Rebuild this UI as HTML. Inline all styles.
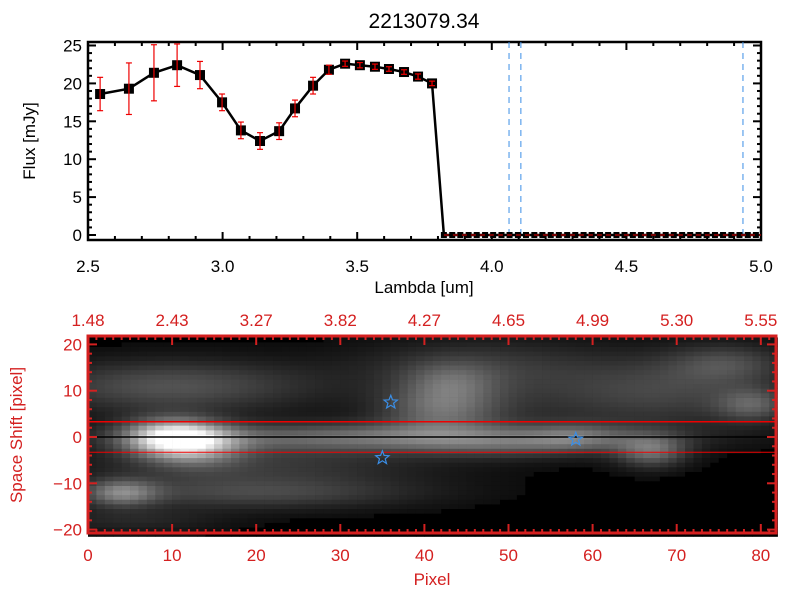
<!DOCTYPE html>
<html><head><meta charset="utf-8"><style>
html,body{margin:0;padding:0;background:#fff;width:800px;height:600px;overflow:hidden}
svg{display:block;font-family:"Liberation Sans",sans-serif}
</style></head><body>
<svg id="c" width="800" height="600" viewBox="0 0 800 600"></svg>
<script>
// ---- top spectrum data ----
const lambdaVals=[2.545,2.652,2.745,2.831,2.916,2.998,3.068,3.139,3.21,3.269,3.336,3.395,3.455,3.51,3.566,3.618,3.674,3.726,3.778,
3.822,3.853,3.883,3.914,3.944,3.975,4.005,4.036,4.066,4.097,4.127,4.158,4.188,4.219,4.249,4.280,4.310,4.341,4.371,4.402,4.432,4.463,4.493,4.524,4.554,4.585,4.615,4.646,4.676,4.707,4.737,4.768,4.798,4.829,4.859,4.890,4.920,4.951,4.981];
const fluxVals=[18.6,19.3,21.4,22.4,21.1,17.5,13.8,12.4,13.7,16.7,19.7,21.8,22.6,22.4,22.2,21.9,21.5,20.9,20.0,
0,0,0,0,0,0,0,0,0,0,0,0,0,0,0,0,0,0,0,0,0,0,0,0,0,0,0,0,0,0,0,0,0,0,0,0,0,0,0];
const errVals=[2.2,3.4,3.7,2.8,1.8,1.1,1.1,1.1,1.1,1.1,1.1,0.6,0.35,0.35,0.35,0.3,0.3,0.35,0.3];
const xTickLabels=["2.5","3.0","3.5","4.0","4.5","5.0"];
const yTickLabels=["0","5","10","15","20","25"];
const dashLambdas=[4.064,4.108,4.933];
// ---- bottom image data ----
const pixelTicks=[0,10,20,30,40,50,60,70,80];
const topLambdaLabels=["1.48","2.43","3.27","3.82","4.27","4.65","4.99","5.30","5.55"];
const shiftTicks=[20,10,0,-10,-20];
const blobX=[10,35,4,20,10,42,43,67,60,76,79,20,13,50,58,45,70,5];
const blobY=[0,0,-12,-12,11,6,12,-3,10,16,7,-6,-2,-2,0,16,10,-18];
const blobAmp=[0.75,0.42,0.4,0.25,0.3,0.35,0.22,0.38,0.16,0.22,0.28,0.18,0.35,0.15,0.2,0.14,0.12,0.12];
const blobSx=[4,20,3,14,12,5,4,3,14,5,3,15,4,8,4,10,8,8];
const blobSy=[2.8,2.2,2,2.5,4,3.5,3,2.5,6,3,2.5,3,3,2,2,4,5,2];
const starPix=[36,35,58];
const starShift=[7.5,-4.5,-0.5];

const S=document.getElementById('c');
const NS='http://www.w3.org/2000/svg';
function mk(t,a,p){const e=document.createElementNS(NS,t);for(const k in a)e.setAttribute(k,a[k]);(p||S).appendChild(e);return e;}
function tx(x,y,s,size,fill,anchor,rot){const e=mk('text',{x:x,y:y,'font-size':size,fill:fill,'text-anchor':anchor||'middle'});if(rot)e.setAttribute('transform',rot);e.textContent=s;return e;}

// top axes
const tx0=88,tx1=761,ty0=240,ty1=42;
const xs=l=>tx0+(l-2.5)/2.5*(tx1-tx0);
const ys=v=>235-v*7.58;
let t=tx(424,28,"2213079.34",21,'#000');


let g=mk('g',{});


mk('rect',{x:tx0,y:ty1,width:tx1-tx0,height:ty0-ty1,fill:'none',stroke:'#000','stroke-width':2.5},g);
for(let i=0;i<=25;i++){const l=2.5+i*0.1;const x=xs(l);const L=(i%5==0)?8:4;
 mk('line',{x1:x,y1:ty0,x2:x,y2:ty0-L,stroke:'#000','stroke-width':2},g);mk('line',{x1:x,y1:ty1,x2:x,y2:ty1+L,stroke:'#000','stroke-width':2},g);}
for(let v=0;v<=25;v++){const y=ys(v);const L=(v%5==0)?8:4;
 mk('line',{x1:tx0,y1:y,x2:tx0+L,y2:y,stroke:'#000','stroke-width':2},g);mk('line',{x1:tx1,y1:y,x2:tx1-L,y2:y,stroke:'#000','stroke-width':2},g);}
xTickLabels.forEach((s,i)=>{const e=tx(xs(2.5+i*0.5),272,s,17,'#000');});
yTickLabels.forEach((s,i)=>{const e=tx(82,ys(i*5)+6,s,17,'#000','end');});
t=tx(424,293,"Lambda [um]",17,'#000');
t=tx(35,141,"Flux [mJy]",17,'#000','middle','rotate(-90 35 141)');
dashLambdas.forEach(l=>{const e=mk('line',{x1:xs(l),y1:ty1,x2:xs(l),y2:ty0,stroke:'#3a8ee6','stroke-width':1,'stroke-dasharray':'6,5'});});
let pts=lambdaVals.map((l,i)=>xs(l)+','+ys(fluxVals[i])).join(' ');
let pl=mk('polyline',{points:pts,fill:'none',stroke:'#000','stroke-width':2.5});

lambdaVals.forEach((l,i)=>{const x=xs(l),y=ys(fluxVals[i]);
 const sz=fluxVals[i]===0?6:10;
 const m=mk('rect',{x:x-sz/2,y:y-sz/2,width:sz,height:sz,fill:'#000'});
 if(i<errVals.length){const eg=mk('g',{stroke:'#e00','stroke-width':1.2});
  const a=ys(fluxVals[i]+errVals[i]),b=ys(fluxVals[i]-errVals[i]);
  mk('line',{x1:x,y1:a,x2:x,y2:b},eg);mk('line',{x1:x-3,y1:a,x2:x+3,y2:a},eg);mk('line',{x1:x-3,y1:b,x2:x+3,y2:b},eg);}
});
let ln=mk('line',{x1:xs(3.822),y1:ys(0),x2:tx1,y2:ys(0),stroke:'#e00','stroke-width':1,'stroke-dasharray':'5,4'});


// bottom image
const bx0=88,bx1=776,by0=533,by1=336;
const px=p=>88+p*8.41;
const sy=s=>437-s*4.63;
const red='#d42020';
const img=mk('g',{});


mk('rect',{x:bx0,y:by1,width:bx1-bx0,height:by0-by1,fill:'#000'},img);
for(let i=0;i<82;i++){for(let j=-21;j<=21;j++){
 let v=0.04;for(let k=0;k<blobX.length;k++){const dx=(i+0.5-blobX[k])/blobSx[k],dy=(j-blobY[k])/blobSy[k];v+=blobAmp[k]*Math.exp(-0.5*(dx*dx+dy*dy));}
 v=Math.min(1,v);let c=Math.round(Math.pow(v,1.05)*255);if(c<14)c=0;
 const x=px(i),y=sy(j+0.5);
 mk('rect',{x:x,y:y,width:8.7,height:4.9,fill:'rgb('+c+','+c+','+c+')'},img);}}
mk('line',{x1:bx0,y1:sy(0),x2:bx1,y2:sy(0),stroke:'#000','stroke-width':1.5},img);
mk('line',{x1:bx0,y1:sy(3.3),x2:bx1,y2:sy(3.3),stroke:'#e00','stroke-width':1.5},img);
mk('line',{x1:bx0,y1:sy(-3.3),x2:bx1,y2:sy(-3.3),stroke:'#e00','stroke-width':1},img);
starPix.forEach((p,i)=>{const cx=px(p),cy=sy(starShift[i]);let d='';for(let k=0;k<10;k++){const r=k%2?3:7,a=-Math.PI/2+k*Math.PI/5;d+=(k?'L':'M')+(cx+r*Math.cos(a)).toFixed(1)+','+(cy+r*Math.sin(a)).toFixed(1);}
 const e=mk('path',{d:d+'Z',fill:'none',stroke:'#3a8ee6','stroke-width':1.2});});
const ba=mk('g',{});


mk('rect',{x:bx0,y:by1,width:bx1-bx0,height:by0-by1,fill:'none',stroke:red,'stroke-width':3},ba);
for(let p=0;p<=81;p++){const x=px(p);const L=(p%10==0)?9:4;
 mk('line',{x1:x,y1:by0,x2:x,y2:by0-L,stroke:red,'stroke-width':2},ba);mk('line',{x1:x,y1:by1,x2:x,y2:by1+L,stroke:red,'stroke-width':2},ba);}
for(let s=-20;s<=20;s+=2){const y=sy(s);const L=(s%10==0)?9:4;
 mk('line',{x1:bx0,y1:y,x2:bx0+L,y2:y,stroke:red,'stroke-width':2},ba);mk('line',{x1:bx1,y1:y,x2:bx1-L,y2:y,stroke:red,'stroke-width':2},ba);}
pixelTicks.forEach((p,i)=>{let e=tx(px(p),561,String(p),17,red);
 e=tx(px(p),326,topLambdaLabels[i],17,red);});
shiftTicks.forEach(s=>{const e=tx(82,sy(s)+6,s<0?'\u2212'+(-s):String(s),17,red,'end');});
t=tx(432,585,"Pixel",17,red);
t=tx(22,435,"Space Shift [pixel]",17,red,'middle','rotate(-90 22 435)');
</script>
</body></html>
